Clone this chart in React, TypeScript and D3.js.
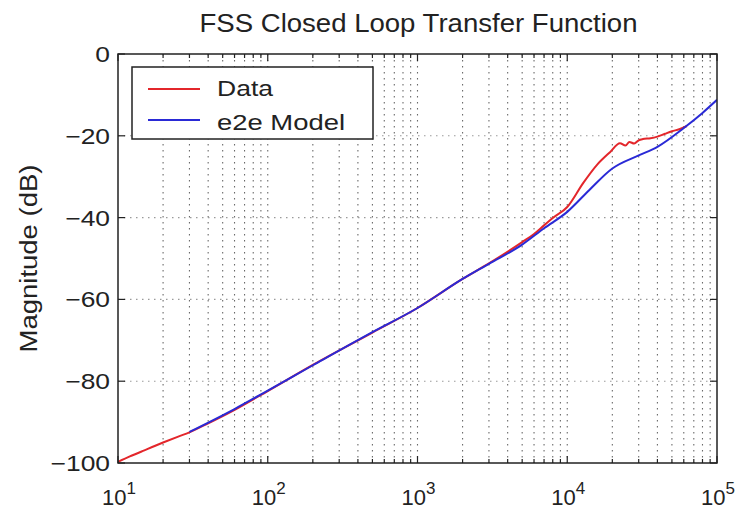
import React from "react";
import * as d3 from "d3";

const title = "FSS Closed Loop Transfer Function";
const yLabel = "Magnitude (dB)";
const legendLabels = ["Data", "e2e Model"];
const yTicks = [0, -20, -40, -60, -80, -100];
const xDecades = [1, 2, 3, 4, 5];

const dataFreq = [10, 12, 15, 20, 25, 30, 40, 58, 100, 200, 500, 1000, 2000, 3000, 5000, 6000, 7000, 8000, 10000, 12800, 15800, 19300, 22500, 24500, 26000, 28000, 30000, 32000, 36000, 40000, 45000, 50000, 56000, 63000];
const dataMag = [-99.7, -98.4, -96.9, -95.0, -93.6, -92.5, -90.3, -87.3, -82.4, -76.0, -68.1, -62.1, -55.0, -51.2, -46.0, -44.0, -41.9, -40.1, -37.4, -31.5, -27.1, -24.0, -21.8, -22.4, -21.5, -21.9, -21.1, -20.8, -20.6, -20.2, -19.5, -18.9, -18.4, -17.6];

const modelFreq = [30, 60, 100, 200, 500, 1000, 2000, 3000, 5000, 7000, 10000, 14000, 20000, 30000, 40000, 60000, 80000, 100000];
const modelMag = [-92.4, -86.8, -82.3, -76.1, -68.0, -62.1, -55.0, -51.3, -46.6, -42.6, -38.6, -33.3, -28.0, -24.8, -22.7, -18.1, -14.4, -11.2];

const W = 738;
const H = 514;
const L = 118, R = 717, T = 54, B = 463;

export default function App() {
  const x = d3.scaleLog().domain([10, 100000]).range([L, R]);
  const y = d3.scaleLinear().domain([-100, 0]).range([B, T]);

  const line = d3
    .line<[number, number]>()
    .x((d) => x(d[0]))
    .y((d) => y(d[1]))
    .curve(d3.curveMonotoneX);

  const dataPts = dataFreq.map((f, i) => [f, dataMag[i]] as [number, number]);
  const modelPts = modelFreq.map((f, i) => [f, modelMag[i]] as [number, number]);

  const minor: number[] = [];
  const major: number[] = [];
  xDecades.forEach((d) => {
    major.push(Math.pow(10, d));
    if (d < 5) for (let k = 2; k <= 9; k++) minor.push(k * Math.pow(10, d));
  });

  const font = "'Liberation Sans', Arial, Helvetica, sans-serif";
  const textFill = "#222";
  const red = "#e3262b";
  const blue = "#2a2ad6";

  return (
    <svg width={W} height={H} style={{ position: "absolute", left: 0, top: 0, background: "#fff" }} fontFamily={font}>
      <rect x={0} y={0} width={W} height={H} fill="#fff" />
      <defs>
        <clipPath id="plotClip">
          <rect x={L} y={T} width={R - L} height={B - T} />
        </clipPath>
      </defs>
      {/* grid */}
      <g>
        {[...minor, ...major.slice(1, -1)].map((f, i) => (
          <line key={"vg" + i} x1={x(f)} x2={x(f)} y1={T} y2={B} stroke="#6a6a6a" strokeWidth={1.1} strokeDasharray="1.5,4.5" />
        ))}
        {yTicks.slice(1, -1).map((v, i) => (
          <line key={"hg" + i} x1={L} x2={R} y1={y(v)} y2={y(v)} stroke="#9a9a9a" strokeWidth={1.1} strokeDasharray="1.5,4.5" />
        ))}
      </g>
      {/* curves */}
      <g clipPath="url(#plotClip)">
        <path d={line(dataPts) || ""} fill="none" stroke={red} strokeWidth={2} />
        <path d={line(modelPts) || ""} fill="none" stroke={blue} strokeWidth={2} />
      </g>
      {/* ticks */}
      <g stroke="#222" strokeWidth={1.2}>
        {minor.map((f, i) => (
          <g key={"mt" + i}>
            <line x1={x(f)} x2={x(f)} y1={B} y2={B - 4} />
            <line x1={x(f)} x2={x(f)} y1={T} y2={T + 4} />
          </g>
        ))}
        {major.map((f, i) => (
          <g key={"Mt" + i}>
            <line x1={x(f)} x2={x(f)} y1={B} y2={B - 7} />
            <line x1={x(f)} x2={x(f)} y1={T} y2={T + 7} />
          </g>
        ))}
        {yTicks.map((v, i) => (
          <g key={"yt" + i}>
            <line x1={L} x2={L + 7} y1={y(v)} y2={y(v)} />
            <line x1={R} x2={R - 7} y1={y(v)} y2={y(v)} />
          </g>
        ))}
      </g>
      {/* legend */}
      <g>
        <rect x={132} y={67} width={241} height={72} fill="#fff" stroke="#222" strokeWidth={1.5} />
        <line x1={148} x2={200} y1={89} y2={89} stroke={red} strokeWidth={2} />
        <line x1={148} x2={200} y1={120} y2={120} stroke={blue} strokeWidth={2} />
        <text x={217} y={96} fontSize={22} fill={textFill} textLength={56} lengthAdjust="spacingAndGlyphs">{legendLabels[0]}</text>
        <text x={217} y={130} fontSize={22} fill={textFill} textLength={128} lengthAdjust="spacingAndGlyphs">{legendLabels[1]}</text>
      </g>
      {/* axes box */}
      <rect x={L} y={T} width={R - L} height={B - T} fill="none" stroke="#222" strokeWidth={1.5} />
      {/* y tick labels */}
      {yTicks.map((v, i) => (
        <g key={"yl" + i} transform={`translate(${L - 8},${y(v) + 8}) scale(1.2,1)`}>
          <text x={0} y={0} fontSize={22} textAnchor="end" fill={textFill}>
            {v < 0 ? "\u2212" + Math.abs(v) : String(v)}
          </text>
        </g>
      ))}
      {/* x tick labels */}
      {xDecades.map((d, i) => (
        <text key={"xl" + i} x={x(Math.pow(10, d)) + 1} y={505} fontSize={22} textAnchor="middle" fill={textFill}>
          10<tspan dy={-11} fontSize={17}>{d}</tspan>
        </text>
      ))}
      {/* y label */}
      <text transform={`translate(37,${(T + B) / 2}) rotate(-90)`} fontSize={23} textAnchor="middle" fill={textFill} textLength={188} lengthAdjust="spacingAndGlyphs">
        {yLabel}
      </text>
      {/* title */}
      <text x={(L + R) / 2 + 1} y={32} fontSize={25} textAnchor="middle" fill={textFill} textLength={438} lengthAdjust="spacingAndGlyphs">
        {title}
      </text>
    </svg>
  );
}
